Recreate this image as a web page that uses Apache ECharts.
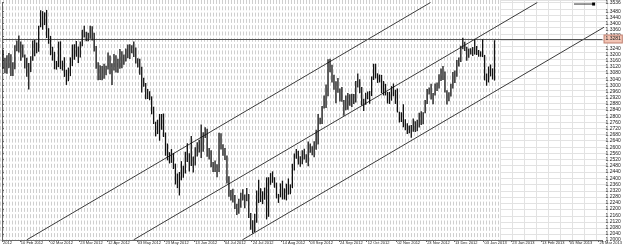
<!DOCTYPE html>
<html><head><meta charset="utf-8">
<script src="https://cdn.jsdelivr.net/npm/echarts/dist/echarts.min.js"></script>
<style>html,body{margin:0;padding:0;background:#fff;overflow:hidden}#c{width:625px;height:245px}</style>
</head><body><div id="c"></div>
<script>
// EURUSD daily bars, 30 Jan 2012 - 10 Jan 2013 (weekdays)
const highs = [
1.3231,1.3178,1.3195,1.3210,1.3202,1.3150,1.3260,1.3290,1.3322,1.3283,
1.3265,1.3200,1.3178,1.3145,1.3188,1.3291,1.3293,1.3277,1.3385,1.3486,
1.3480,1.3472,1.3488,1.3370,1.3320,1.3250,1.3217,1.3158,1.3283,1.3285,
1.3160,1.3182,1.3101,1.3115,1.3181,1.3264,1.3266,1.3287,1.3251,1.3283,
1.3360,1.3386,1.3347,1.3341,1.3385,1.3382,1.3341,1.3255,1.3150,1.3130,
1.3125,1.3140,1.3127,1.3213,1.3194,1.3143,1.3203,1.3195,1.3172,1.3235,
1.3220,1.3200,1.3238,1.3265,1.3266,1.3260,1.3283,1.3245,1.3175,1.3173,
1.3120,1.3049,1.3015,1.2976,1.2962,1.2929,1.2862,1.2765,1.2778,1.2815,
1.2815,1.2818,1.2695,1.2624,1.2568,1.2588,1.2563,1.2494,1.2430,1.2440,
1.2510,1.2480,1.2570,1.2625,1.2561,1.2672,1.2540,1.2600,1.2632,1.2649,
1.2747,1.2697,1.2730,1.2720,1.2595,1.2580,1.2505,1.2514,1.2490,1.2693,
1.2690,1.2620,1.2595,1.2546,1.2413,1.2323,1.2332,1.2291,1.2235,1.2267,
1.2305,1.2328,1.2295,1.2337,1.2297,1.2175,1.2127,1.2170,1.2320,1.2389,
1.2335,1.2315,1.2339,1.2405,1.2406,1.2433,1.2444,1.2406,1.2371,1.2298,
1.2366,1.2384,1.2334,1.2364,1.2398,1.2360,1.2493,1.2559,1.2589,1.2578,
1.2542,1.2581,1.2590,1.2554,1.2637,1.2624,1.2607,1.2639,1.2713,1.2815,
1.2790,1.2867,1.2935,1.3005,1.3169,1.3172,1.3133,1.3068,1.3027,1.3047,
1.2980,1.2990,1.2906,1.2935,1.2950,1.2942,1.2946,1.2944,1.3029,1.3077,
1.3040,1.2990,1.2914,1.2952,1.2961,1.2964,1.3058,1.3140,1.3140,1.3078,
1.3070,1.3068,1.3028,1.3010,1.2957,1.2958,1.2995,1.3012,1.2972,1.2980,
1.2830,1.2826,1.2878,1.2781,1.2755,1.2741,1.2744,1.2786,1.2768,1.2777,
1.2823,1.2832,1.2826,1.2906,1.2977,1.2987,1.3010,1.2951,1.3012,1.3019,
1.3072,1.3109,1.3125,1.3089,1.2968,1.2955,1.3010,1.3087,1.3096,1.3164,
1.3180,1.3257,1.3308,1.3282,1.3250,1.3238,1.3240,1.3248,1.3300,1.3255,
1.3229,1.3220,1.3298,1.3197,1.3077,1.3122,1.3135,1.3110,1.3292];
const lows = [
1.3106,1.3078,1.3076,1.3111,1.3060,1.3060,1.3105,1.3220,1.3213,1.3160,
1.3180,1.3109,1.3055,1.2973,1.3087,1.3160,1.3188,1.3207,1.3218,1.3376,
1.3360,1.3390,1.3306,1.3269,1.3195,1.3160,1.3104,1.3102,1.3118,1.3105,
1.3096,1.3055,1.3003,1.3027,1.3060,1.3125,1.3165,1.3185,1.3144,1.3180,
1.3253,1.3310,1.3285,1.3285,1.3302,1.3290,1.3219,1.3108,1.3033,1.3034,
1.3033,1.3043,1.3066,1.3103,1.3072,1.3003,1.3096,1.3084,1.3082,1.3107,
1.3110,1.3134,1.3154,1.3176,1.3170,1.3208,1.3183,1.3142,1.3116,1.3069,
1.2954,1.2991,1.2911,1.2912,1.2904,1.2813,1.2750,1.2670,1.2685,1.2642,
1.2713,1.2666,1.2545,1.2515,1.2495,1.2499,1.2459,1.2359,1.2335,1.2288,
1.2386,1.2402,1.2430,1.2504,1.2443,1.2479,1.2437,1.2482,1.2540,1.2566,
1.2531,1.2570,1.2660,1.2539,1.2520,1.2470,1.2440,1.2440,1.2406,1.2440,
1.2585,1.2545,1.2517,1.2366,1.2280,1.2255,1.2243,1.2201,1.2162,1.2170,
1.2208,1.2255,1.2205,1.2250,1.2143,1.2067,1.2042,1.2051,1.2111,1.2239,
1.2246,1.2232,1.2261,1.2133,1.2150,1.2357,1.2370,1.2338,1.2269,1.2240,
1.2276,1.2262,1.2262,1.2256,1.2293,1.2296,1.2335,1.2450,1.2525,1.2488,
1.2473,1.2490,1.2520,1.2499,1.2477,1.2565,1.2548,1.2535,1.2583,1.2617,
1.2748,1.2750,1.2851,1.2853,1.2930,1.3085,1.3018,1.2972,1.2884,1.2953,
1.2895,1.2894,1.2803,1.2839,1.2842,1.2869,1.2860,1.2880,1.2889,1.2986,
1.2949,1.2870,1.2834,1.2874,1.2910,1.2881,1.2931,1.3035,1.3045,1.3016,
1.3019,1.2950,1.2935,1.2935,1.2883,1.2880,1.2901,1.2930,1.2880,1.2825,
1.2760,1.2763,1.2730,1.2710,1.2686,1.2690,1.2661,1.2700,1.2698,1.2703,
1.2728,1.2743,1.2748,1.2820,1.2880,1.2941,1.2909,1.2878,1.2935,1.2963,
1.2980,1.3028,1.3034,1.2954,1.2877,1.2897,1.2928,1.2980,1.3015,1.3055,
1.3122,1.3152,1.3233,1.3222,1.3160,1.3178,1.3200,1.3190,1.3200,1.3196,
1.3185,1.3185,1.3183,1.3032,1.2998,1.3019,1.3058,1.3038,1.3031];
const futureSlots = 54;
const hLinePrice = 1.3281;
// channel lines: [slot, price] anchor pairs
const channelLines = [
  [[12.48,1.2001],[216.2,1.3536]],
  [[66.4,1.2001],[270.1,1.3536]],
  [[121.3,1.2001],[325.0,1.3536]]
];
const markerLine = [[288.6,1.3526],[298.5,1.3526]];
const yMin = 1.2000, yMax = 1.3536, yStep = 0.0040;

const MONTHS=['Jan','Feb','Mar','Apr','May','Jun','Jul','Aug','Sep','Oct','Nov','Dec'];
const nSlots = highs.length + futureSlots;
const cats = [];
{
  const d=new Date(Date.UTC(2012,0,30));
  while(cats.length < nSlots){ const wd=d.getUTCDay(); if(wd!==0&&wd!==6) cats.push(String(d.getUTCDate()).padStart(2,'0')+' '+MONTHS[d.getUTCMonth()]+' '+d.getUTCFullYear()); d.setUTCDate(d.getUTCDate()+1); }
}
const slotPx = 607/nSlots;
const labelIdx = new Set([0]);
for(let k=0;k<=20;k++){ labelIdx.add(Math.round((20+29.2*k)/slotPx-0.5)); }

const chart = echarts.init(document.getElementById('c'), null, {renderer:'canvas'});
const font = {fontFamily:'Liberation Sans', fontSize:5, color:'#222'};
chart.setOption({
  animation:false,
  backgroundColor:'#fff',
  grid:[
    {left:0, right:18, top:0, bottom:4},      // main
    {left:0, width:500, top:0, bottom:4},     // dense grid zone
    {left:500, right:18, top:0, bottom:4}     // future zone
  ],
  xAxis:[
    {type:'category', gridIndex:0, data:cats, boundaryGap:true,
     axisLine:{show:true, lineStyle:{color:'#666', width:1}},
     axisTick:{show:true, length:2, interval:(i)=>labelIdx.has(i), lineStyle:{color:'#666'}},
     axisLabel:{show:true, interval:(i)=>labelIdx.has(i), margin:1, align:'left', fontFamily:'Liberation Sans', fontSize:4, color:'#222',
       formatter:(v,i)=> i===0 ? '2012' : v},
     splitLine:{show:false}},
    {type:'value', gridIndex:0, min:0, max:nSlots, show:false},
    {type:'value', gridIndex:1, min:0, max:500/3, interval:1, show:true,
     axisLine:{show:false}, axisTick:{show:false}, axisLabel:{show:false},
     splitLine:{show:true, lineStyle:{color:'#cfcfcf', width:1, type:[4,2.3]}}},
    {type:'value', gridIndex:2, min:0, max:107/12, interval:1, show:true,
     axisLine:{show:false}, axisTick:{show:false}, axisLabel:{show:false},
     splitLine:{show:true, lineStyle:{color:'#e2e2e2', width:1}}}
  ],
  yAxis:[
    {type:'value', gridIndex:0, position:'right', min:yMin, max:yMax, interval:yStep,
     axisLine:{show:true, lineStyle:{color:'#666'}},
     axisTick:{show:true, length:2, lineStyle:{color:'#666'}},
     axisLabel:{show:true, margin:3, ...font, formatter:(v)=>v.toFixed(4), showMaxLabel:true},
     splitLine:{show:false}},
    {type:'value', gridIndex:1, min:yMin, max:yMax, show:false, splitLine:{show:false}},
    {type:'value', gridIndex:2, min:yMin, max:yMax, interval:yStep, show:true,
     axisLine:{show:false}, axisTick:{show:false}, axisLabel:{show:false},
     splitLine:{show:true, lineStyle:{color:'#e2e2e2', width:1}}}
  ],
  series:[
    {type:'custom', xAxisIndex:0, yAxisIndex:0, silent:true, z:5,
     data: highs.map((h,i)=>[i, lows[i], h]),
     renderItem:(params, api)=>{
       const top = api.coord([api.value(0), api.value(2)]);
       const bot = api.coord([api.value(0), api.value(1)]);
       return {type:'rect', shape:{x:top[0]-0.65, y:top[1], width:1.3, height:Math.max(1, bot[1]-top[1])},
               style:{fill:'#111'}};
     }},
    ...channelLines.map((ln, k)=>({
      type:'line', xAxisIndex:1, yAxisIndex:0, silent:true, z:4, clip:true,
      data: ln.map(p=>[p[0], p[1]]), symbol:'none',
      lineStyle:{color:'#3a3a3a', width:1},
      markLine: k===0 ? {silent:true, symbol:'none', animation:false,
        lineStyle:{color:'#555', width:1, type:'solid'},
        label:{show:true, position:'end', distance:2, formatter:()=>hLinePrice.toFixed(4),
               fontFamily:'Liberation Sans', fontSize:5, color:'#222',
               backgroundColor:'#f2c4b4', borderColor:'#c08070', borderWidth:1, padding:[1,1]},
        data:[{yAxis:hLinePrice}]} : undefined
    })),
    {type:'line', xAxisIndex:1, yAxisIndex:0, silent:true, z:6, clip:true,
     data: markerLine, symbol:'rect', symbolSize:(v,p)=> p.dataIndex===1?3:0,
     itemStyle:{color:'#000'}, lineStyle:{color:'#333', width:1}}
  ]
});
</script></body></html>
